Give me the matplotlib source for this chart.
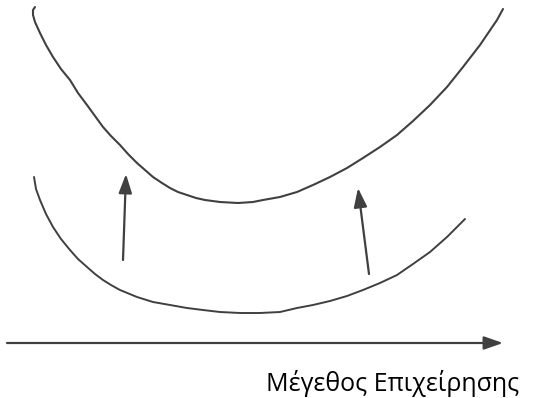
import matplotlib.pyplot as plt

# 그림 좌표 (픽셀 기준, y는 아래로 증가)
upper_x = [35, 33, 33, 35, 40, 46, 53, 61, 70, 78, 87, 95, 103, 111, 120, 128, 137, 145, 153,
           162, 170, 178, 187, 196, 205, 220, 238, 253, 263, 280, 297, 313, 330, 347,
           363, 380, 397, 413, 430, 447, 463, 480, 497, 503]
upper_y = [7, 10, 15, 22, 33, 45, 57, 69, 80, 93, 105, 116, 127, 136, 145, 154, 163, 170, 177,
           183, 188, 192, 195, 198, 200, 202, 203, 202, 200, 197, 192, 185, 177, 168,
           158, 147, 135, 121, 105, 87, 67, 45, 20, 9]

lower_x = [34, 36, 40, 46, 53, 61, 70, 78, 87, 95, 103, 111, 120, 137, 153, 170, 187, 203,
           220, 240, 260, 280, 297, 313, 330, 347, 363, 380, 397, 413, 430, 447, 465]
lower_y = [177, 189, 200, 214, 227, 239, 250, 259, 267, 274, 280, 285, 290, 297, 302, 305,
           308, 310, 312, 313, 313, 312, 308, 305, 301, 296, 290, 283, 275, 264, 252, 237, 219]

arrow_tail = [(123, 260), (369, 274)]
arrow_tip = [(126, 174), (358, 188)]

axis_start = (7, 343)
axis_end = (503, 343)
label = 'Μέγεθος Επιχείρησης'

color = '#404040'

fig = plt.figure(figsize=(5.33, 3.98), dpi=100)
ax = fig.add_axes([0, 0, 1, 1])
ax.set_xlim(0, 533)
ax.set_ylim(398, 0)
ax.axis('off')

ax.plot(upper_x, upper_y, color=color, lw=1.5, solid_capstyle='round', solid_joinstyle='round')
ax.plot(lower_x, lower_y, color=color, lw=1.4, solid_capstyle='round', solid_joinstyle='round')

style = dict(arrowstyle='-|>,head_length=1.15,head_width=0.4', color=color,
             lw=1.6, mutation_scale=10, shrinkA=0, shrinkB=0)
for tail, tip in zip(arrow_tail, arrow_tip):
    ax.annotate('', xy=tip, xytext=tail, arrowprops=style)

ax.annotate('', xy=axis_end, xytext=axis_start, arrowprops=style)

ax.text(519, 391, label, ha='right', va='baseline', fontsize=18,
        family=['Open Sans', 'DejaVu Sans'], color='black')

fig.savefig('out.png', dpi=100)
